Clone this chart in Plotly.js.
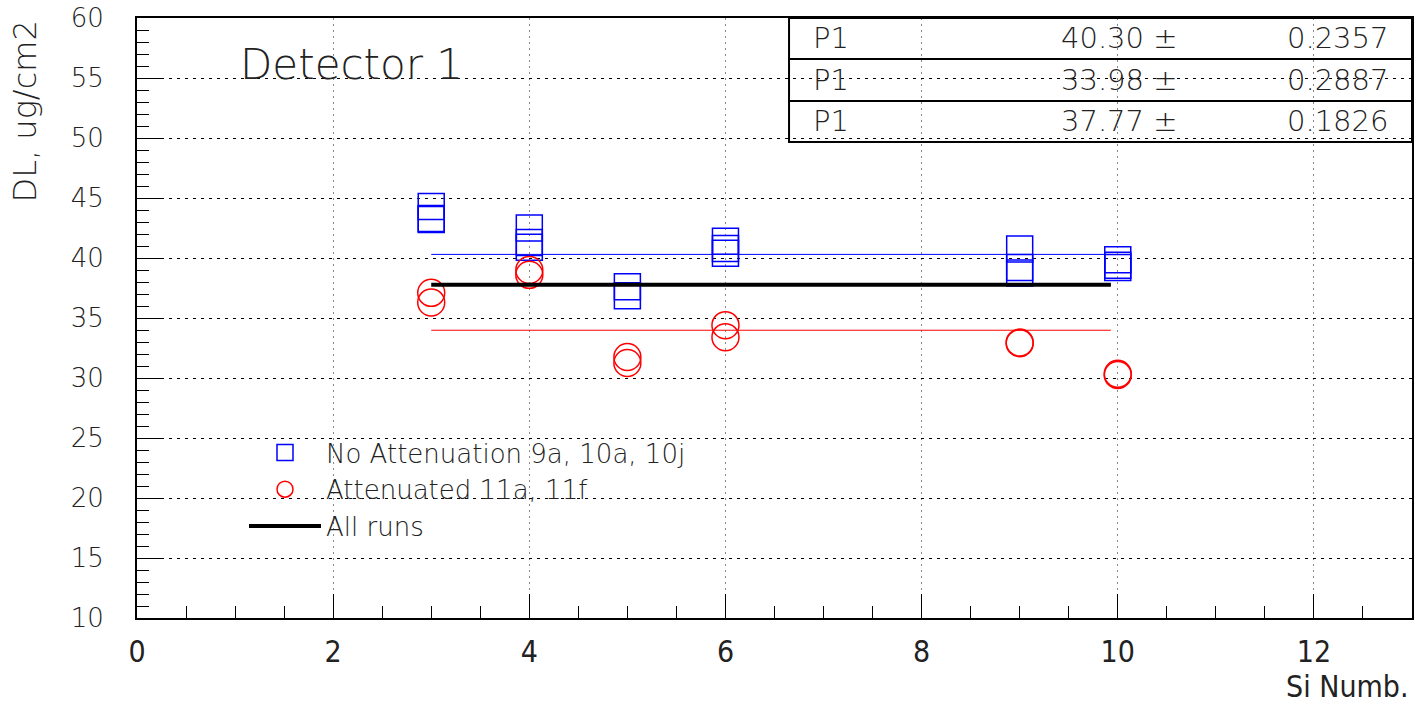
<!DOCTYPE html>
<html>
<head>
<meta charset="utf-8">
<script src="https://cdn.plot.ly/plotly-3.0.1.min.js"></script>
<style>
  html, body { margin: 0; padding: 0; background: #fff; }
  #chart { width: 1423px; height: 706px; }
</style>
</head>
<body>
<div id="chart"></div>
<script>
// ---- data ----
const blueX = [3, 3, 3, 4, 4, 4, 5, 5, 6, 6, 6, 9, 9, 9, 10, 10, 10];
const blueY = [44.3, 43.3, 43.2, 42.5, 41.3, 40.9, 37.6, 36.85, 41.4, 40.8, 40.4, 40.75, 39.2, 38.75, 39.85, 39.4, 39.2];
const redX = [3, 3, 4, 4, 5, 5, 6, 6, 9, 9, 10, 10];
const redY = [37.1, 36.3, 39.0, 38.6, 31.75, 31.25, 34.4, 33.4, 32.95, 32.9, 30.35, 30.25];
const fitRange = [3, 9.93];
const fitNames = ['P1', 'P1', 'P1'];
const fitValues = [40.30, 33.98, 37.77];
const fitErrors = [0.2357, 0.2887, 0.1826];
const seriesNames = ['No Attenuation 9a, 10a, 10j', 'Attenuated 11a, 11f', 'All runs'];
const xTitle = 'Si Numb.';
const yTitle = 'DL, ug/cm2';
const panelLabel = 'Detector 1';

const FONT = 'DejaVu Sans, Liberation Sans, Arial, sans-serif';
const NARROW = 'Liberation Sans Narrow, DejaVu Sans Condensed, Liberation Sans, sans-serif';
const TXT = '#222';
const W = 200;

const traces = [
  {
    x: blueX, y: blueY, type: 'scatter', mode: 'markers', name: seriesNames[0],
    marker: { symbol: 'square-open', size: 26, color: '#0000ff', line: { width: 1.5, color: '#0000ff' } }
  },
  {
    x: redX, y: redY, type: 'scatter', mode: 'markers', name: seriesNames[1],
    marker: { symbol: 'circle-open', size: 27, color: '#ff0000', line: { width: 1.5, color: '#ff0000' } }
  },
  {
    x: fitRange, y: [fitValues[2], fitValues[2]], type: 'scatter', mode: 'lines', name: seriesNames[2],
    line: { color: '#000000', width: 4 }
  },
  {
    x: fitRange, y: [fitValues[0], fitValues[0]], type: 'scatter', mode: 'lines', showlegend: false,
    line: { color: '#0000ff', width: 1 }, hoverinfo: 'skip'
  },
  {
    x: fitRange, y: [fitValues[1], fitValues[1]], type: 'scatter', mode: 'lines', showlegend: false,
    line: { color: '#ff0000', width: 1 }, hoverinfo: 'skip'
  }
];

// stats box (paper coordinates of plot area)
const rowTops = [1.0, 0.9317, 0.8617];
const rowBottoms = [0.9317, 0.8617, 0.7933];
const shapes = [];
const annotations = [];
for (let i = 0; i < fitValues.length; i++) {
  shapes.push({
    type: 'rect', xref: 'paper', yref: 'paper', x0: 0.5114, x1: 1.0,
    y0: rowBottoms[i], y1: rowTops[i], line: { color: '#000', width: 2 }, fillcolor: 'rgba(0,0,0,0)', layer: 'above'
  });
  const yc = (rowTops[i] + rowBottoms[i]) / 2;
  annotations.push({ xref: 'paper', yref: 'paper', x: 0.529, y: yc, xanchor: 'left', yanchor: 'middle',
    text: fitNames[i], showarrow: false, font: { family: FONT, size: 29, color: TXT, weight: W } });
  annotations.push({ xref: 'paper', yref: 'paper', x: 0.818, y: yc, xanchor: 'right', yanchor: 'middle',
    text: fitValues[i].toFixed(2) + ' \u00b1', showarrow: false, font: { family: FONT, size: 29, color: TXT, weight: W } });
  annotations.push({ xref: 'paper', yref: 'paper', x: 0.983, y: yc, xanchor: 'right', yanchor: 'middle',
    text: fitErrors[i].toFixed(4), showarrow: false, font: { family: FONT, size: 29, color: TXT, weight: W } });
}
annotations.push({ xref: 'paper', yref: 'paper', x: (238 - 137) / 1275, y: (618 - 64) / 600, xanchor: 'left', yanchor: 'middle',
  text: panelLabel, showarrow: false, font: { family: FONT, size: 42, color: TXT, weight: W } });
annotations.push({ xref: 'paper', yref: 'paper', x: 0.999, y: -0.114, xanchor: 'right', yanchor: 'middle',
  text: xTitle, showarrow: false, font: { family: NARROW, size: 30, color: TXT, weight: W } });
annotations.push({ xref: 'paper', yref: 'paper', x: -0.0875, y: 1.0, xanchor: 'center', yanchor: 'top', textangle: -90,
  text: yTitle, showarrow: false, font: { family: FONT, size: 32, color: TXT, weight: W } });

const layout = {
  width: 1423, height: 706,
  margin: { l: 137, r: 11, t: 18, b: 88, pad: 0 },
  paper_bgcolor: '#fff', plot_bgcolor: '#fff',
  font: { family: FONT, color: TXT, weight: W },
  showlegend: true,
  legend: {
    x: (244 - 137) / 1275, y: (618 - 429) / 600, xanchor: 'left', yanchor: 'top',
    bgcolor: 'rgba(0,0,0,0)', borderwidth: 0, font: { family: FONT, size: 26, color: TXT, weight: W },
    tracegroupgap: 0, itemwidth: 72
  },
  xaxis: {
    range: [0, 13], dtick: 2, tick0: 0, ticks: 'inside', ticklen: 24, tickcolor: '#000', tickwidth: 1,
    showline: true, mirror: true, linecolor: '#000', linewidth: 2, zeroline: false,
    showgrid: true, gridcolor: '#888', griddash: '2px,4px', gridwidth: 1,
    minor: { dtick: 0.5, ticks: 'inside', ticklen: 12, tickcolor: '#000', showgrid: false },
    tickfont: { family: NARROW, size: 30, color: TXT, weight: W }, ticklabelstandoff: 6
  },
  yaxis: {
    range: [10, 60], dtick: 5, tick0: 10, ticks: 'inside', ticklen: 24, tickcolor: '#000', tickwidth: 1,
    showline: true, mirror: true, linecolor: '#000', linewidth: 2, zeroline: false,
    showgrid: true, gridcolor: '#000', griddash: '3px,5px', gridwidth: 1,
    minor: { dtick: 1, ticks: 'inside', ticklen: 12, tickcolor: '#000', showgrid: false },
    tickfont: { family: FONT, size: 26, color: TXT, weight: W }, ticklabelstandoff: 26
  },
  shapes: shapes,
  annotations: annotations
};

Plotly.newPlot('chart', traces, layout, { staticPlot: true, displayModeBar: false });
</script>
</body>
</html>
